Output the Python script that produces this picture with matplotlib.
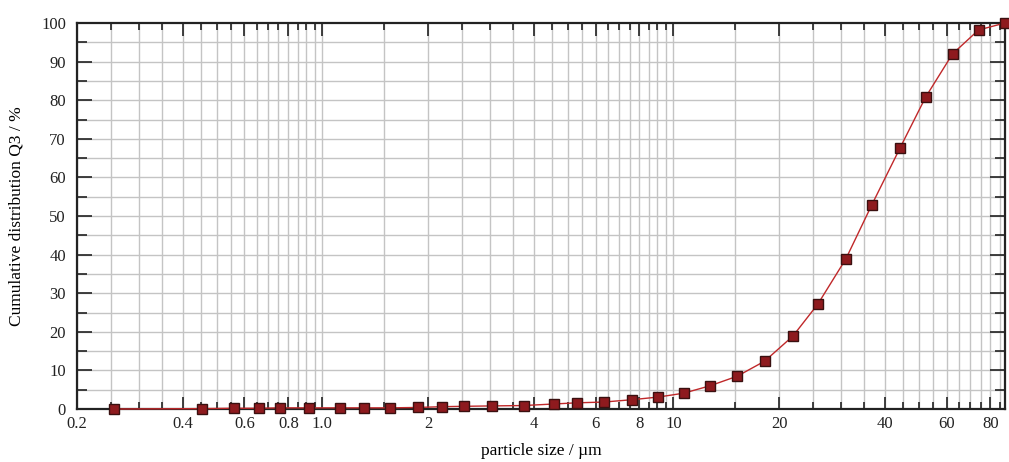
import numpy as np
import matplotlib
matplotlib.use("Agg")
import matplotlib.pyplot as plt
from matplotlib.ticker import FixedLocator, FixedFormatter, NullFormatter

# particle size classes (µm) and cumulative distribution Q3 (%)
sizes = [0.255, 0.453, 0.559, 0.658, 0.755, 0.918, 1.12, 1.31, 1.56, 1.87,
         2.19, 2.53, 3.04, 3.75, 4.56, 5.30, 6.33, 7.60, 9.06, 10.7,
         12.7, 15.2, 18.2, 21.9, 25.8, 31.0, 36.7, 44.2, 52.3, 62.4,
         74.0, 88.0]
q3 = [0.0, 0.1, 0.2, 0.2, 0.3, 0.3, 0.3, 0.3, 0.3, 0.4,
      0.6, 0.7, 0.8, 0.9, 1.3, 1.6, 1.8, 2.4, 3.1, 4.1,
      6.0, 8.5, 12.4, 18.9, 27.2, 38.9, 52.8, 67.6, 80.8, 92.0,
      98.2, 100.0]

x_major = [0.2, 0.4, 0.6, 0.8, 1.0, 2, 4, 6, 8, 10, 20, 40, 60, 80]
x_major_labels = ["0.2", "0.4", "0.6", "0.8", "1.0", "2", "4", "6", "8",
                  "10", "20", "40", "60", "80"]
y_major = [0, 10, 20, 30, 40, 50, 60, 70, 80, 90, 100]

# grid / minor positions: 0.05 steps below 1, 0.5 steps to 10, 5 steps to 85
x_grid = list(np.arange(0.2, 1.0001, 0.05)) + list(np.arange(1.5, 10.0001, 0.5)) \
    + list(np.arange(15, 85.001, 5))

plt.rcParams["font.family"] = ["Liberation Serif", "DejaVu Serif"]

fig = plt.figure(figsize=(10.09, 4.62), dpi=100)
ax = fig.add_axes([0.0763, 0.1147, 0.9197, 0.8355])

ax.set_xscale("log")
ax.set_xlim(0.2, 88)
ax.set_ylim(0, 100)

for xv in x_grid:
    ax.axvline(xv, color="#c4c4c4", linewidth=1.0, zorder=0)
for yv in np.arange(5, 100, 5):
    ax.axhline(yv, color="#c4c4c4", linewidth=1.0, zorder=0)

ax.plot(sizes, q3, color="#c0282a", linewidth=1.0, zorder=3, clip_on=False)
ax.plot(sizes, q3, linestyle="none", marker="s", markersize=6.5,
        markerfacecolor="#8e1a1e", markeredgecolor="#3a1010",
        markeredgewidth=1.0, zorder=4, clip_on=False)

ax.xaxis.set_major_locator(FixedLocator(x_major))
ax.xaxis.set_major_formatter(FixedFormatter(x_major_labels))
ax.xaxis.set_minor_locator(FixedLocator(x_grid))
ax.xaxis.set_minor_formatter(NullFormatter())
ax.yaxis.set_major_locator(FixedLocator(y_major))
ax.yaxis.set_minor_locator(FixedLocator(list(range(5, 100, 10))))

ax.tick_params(which="both", direction="in", top=True, right=True,
               labelsize=12, colors="#222222", width=1.2)
ax.tick_params(which="major", length=9)
ax.tick_params(axis="x", which="major", pad=5)
ax.tick_params(which="minor", length=5)
ax.tick_params(axis="y", which="major", length=11, pad=8)
ax.tick_params(axis="y", which="minor", length=7)

for s in ax.spines.values():
    s.set_linewidth(1.6)
    s.set_color("#222222")

ax.set_xlabel("particle size / µm", fontsize=12.5, labelpad=8)
ax.set_ylabel("Cumulative distribution Q3 / %", fontsize=12.5, labelpad=12)

fig.savefig("out.png", dpi=100)
